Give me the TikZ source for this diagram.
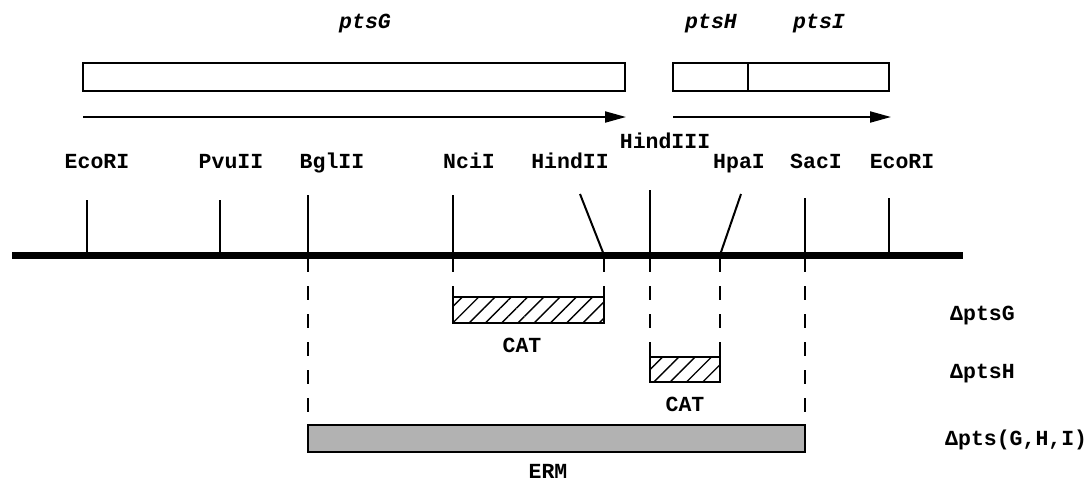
\documentclass[tikz,border=0pt]{standalone}
\usepackage{fontspec}
\setmonofont{Liberation Mono}
\usetikzlibrary{arrows.meta,patterns.meta}

\tikzset{
  lbl/.style={font=\fontsize{21.5}{24}\selectfont\ttfamily\bfseries, anchor=base, inner sep=0pt},
  genelbl/.style={lbl, font=\fontsize{21.5}{24}\selectfont\ttfamily\bfseries\itshape},
  cut/.style={line width=2pt},
  guide/.style={line width=2pt, dash pattern=on 14pt off 14pt},
  catbox/.style={line width=2pt, pattern={Lines[angle=45,distance=11.5pt,line width=1.4pt]}},
}

\begin{document}
\begin{tikzpicture}[x=1pt,y=-1pt]
\useasboundingbox (0,0) rectangle (1089,483);

% genes and transcripts
\node[genelbl] (ptsG) at (365,28) {ptsG};
\node[genelbl] (ptsH) at (711,28) {ptsH};
\node[genelbl] (ptsI) at (819,28) {ptsI};

\draw[line width=1.5pt] (83,63) rectangle (625,91);
\draw[line width=1.5pt] (673,63) rectangle (889,91);
\draw[line width=1.5pt] (748,63) -- (748,91);

\coordinate (tG0) at (83,117);
\coordinate (tG1) at (626,117);
\coordinate (tHI0) at (673,117);
\coordinate (tHI1) at (891,117);
\draw[line width=2pt,-{Triangle[length=21pt,width=11pt]}] (tG0) -- (tG1);
\draw[line width=2pt,-{Triangle[length=21pt,width=11pt]}] (tHI0) -- (tHI1);

% restriction sites
\node[lbl] (eco1) at (97,168) {EcoRI};
\node[lbl] (pvu) at (231,168) {PvuII};
\node[lbl] (bgl) at (332,168) {BglII};
\node[lbl] (nci) at (469,168) {NciI};
\node[lbl] (hinc) at (570,168) {HindII};
\node[lbl] (hind) at (665,148) {HindIII};
\node[lbl] (hpa) at (739,168) {HpaI};
\node[lbl] (sac) at (816,168) {SacI};
\node[lbl] (eco2) at (902,168) {EcoRI};

% chromosome
\coordinate (chrL) at (12,255);
\coordinate (chrR) at (963,255);
\draw[line width=7pt] (chrL) -- (chrR);

\coordinate (eco1b) at (87,255);  \coordinate (eco1t) at (87,200);
\coordinate (pvub) at (220,255);  \coordinate (pvut) at (220,200);
\coordinate (bglb) at (308,255);  \coordinate (bglt) at (308,195);
\coordinate (ncib) at (453,255);  \coordinate (ncit) at (453,195);
\coordinate (hincb) at (604,255); \coordinate (hinct) at (580,194);
\coordinate (hindb) at (650,255); \coordinate (hindt) at (650,190);
\coordinate (hpab) at (720,255);  \coordinate (hpat) at (741,194);
\coordinate (sacb) at (805,255);  \coordinate (sact) at (805,198);
\coordinate (eco2b) at (889,255); \coordinate (eco2t) at (889,198);

\draw[cut] (eco1t) -- (eco1b);
\draw[cut] (pvut) -- (pvub);
\draw[cut] (bglt) -- (bglb);
\draw[cut] (ncit) -- (ncib);
\draw[cut] (hinct) -- (hincb);
\draw[cut] (hindt) -- (hindb);
\draw[cut] (hpat) -- (hpab);
\draw[cut] (sact) -- (sacb);
\draw[cut] (eco2t) -- (eco2b);

% deletions
\draw[guide] (308,258) -- (308,425);
\draw[guide] (805,258) -- (805,425);
\draw[guide] (453,258) -- (453,288);
\draw[guide] (604,258) -- (604,288);
\draw[guide] (650,258) -- (650,344);
\draw[guide] (720,258) -- (720,344);

\draw[catbox] (453,297) rectangle (604,323);
\draw[line width=2pt] (453,288) -- (453,323) (604,288) -- (604,323);
\draw[catbox] (650,357) rectangle (720,382);
\draw[line width=2pt] (650,344) -- (650,382) (720,344) -- (720,382);
\draw[line width=2pt, fill=black!30] (308,425) rectangle (805,452);

\node[lbl] (cat1) at (522,352) {CAT};
\node[lbl] (cat2) at (685,411) {CAT};
\node[lbl] (erm) at (548,478) {ERM};

\node[lbl, anchor=base west] (dG) at (950,320) {ΔptsG};
\node[lbl, anchor=base west] (dH) at (950,378) {ΔptsH};
\node[lbl, anchor=base west] (dGHI) at (945,445) {Δpts(G,H,I)};
\end{tikzpicture}
\end{document}
